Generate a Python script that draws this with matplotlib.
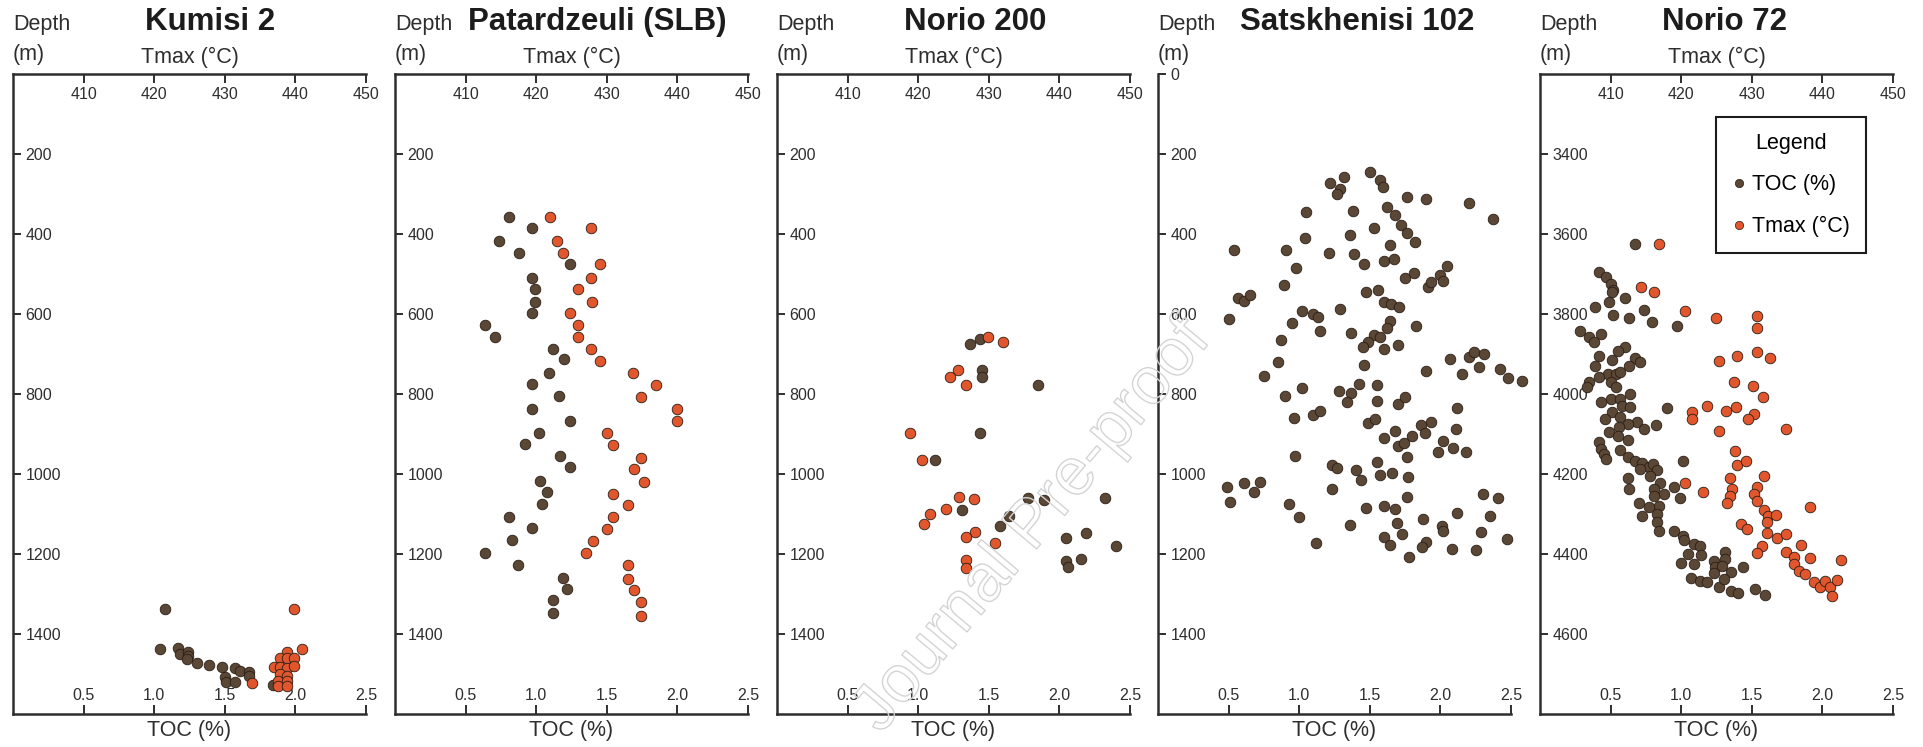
import matplotlib
matplotlib.use('Agg')
import matplotlib.pyplot as plt
import matplotlib.patheffects as pe
from matplotlib.lines import Line2D

plt.rcParams['font.family'] = ['Liberation Sans', 'DejaVu Sans']

# === DATA: (value, depth m) ===
kumisi_toc = [(1.08, 1337), (1.04, 1437), (1.17, 1434), (1.18, 1450), (1.24, 1444), (1.24, 1455),
              (1.23, 1463), (1.30, 1473), (1.39, 1477), (1.48, 1483), (1.57, 1486), (1.61, 1492),
              (1.67, 1494), (1.50, 1508), (1.51, 1519), (1.57, 1521), (1.67, 1504), (1.84, 1527)]
kumisi_tmax = [(439.8, 1337), (440.9, 1437), (438.8, 1444), (437.8, 1461), (438.8, 1461), (439.8, 1461),
               (436.9, 1482), (437.8, 1482), (438.8, 1484), (439.8, 1479), (437.8, 1500), (438.8, 1504),
               (437.5, 1518), (438.8, 1518), (437.6, 1530), (438.8, 1530), (433.8, 1523)]

patar_toc = [(0.81, 357), (0.97, 384), (0.74, 418), (0.88, 448), (1.24, 475), (0.97, 509), (0.99, 537),
             (0.99, 569), (0.97, 598), (0.64, 627), (0.71, 658), (1.12, 687), (1.20, 713), (1.09, 748),
             (0.97, 776), (1.16, 804), (0.97, 838), (1.24, 867), (1.02, 897), (0.92, 925), (1.17, 955),
             (1.24, 982), (1.03, 1017), (1.08, 1045), (1.04, 1075), (0.81, 1107), (0.97, 1136),
             (0.83, 1165), (0.64, 1197), (0.87, 1227), (1.19, 1259), (1.22, 1288), (1.12, 1315),
             (1.12, 1347)]
patar_tmax = [(422.0, 357), (427.8, 384), (423.0, 418), (423.8, 448), (429.0, 475), (427.8, 509),
              (425.9, 537), (427.9, 569), (424.8, 598), (425.9, 627), (425.9, 658), (427.8, 687),
              (429.0, 717), (433.7, 748), (437.0, 778), (434.8, 807), (440.0, 838), (440.0, 867),
              (430.0, 898), (430.9, 928), (434.8, 959), (433.8, 988), (435.2, 1019), (430.9, 1050),
              (433.0, 1078), (430.9, 1107), (430.0, 1137), (428.0, 1167), (427.0, 1198), (433.0, 1227),
              (433.0, 1263), (433.8, 1290), (434.8, 1319), (434.8, 1354)]

norio200_toc = [(1.37, 674), (1.44, 663), (1.45, 740), (1.45, 758), (1.85, 777), (1.44, 898), (1.12, 964),
                (1.78, 1061), (1.89, 1066), (2.32, 1061), (1.31, 1090), (1.64, 1104), (1.58, 1131),
                (2.05, 1159), (2.19, 1147), (2.40, 1179), (2.05, 1218), (2.15, 1212), (2.06, 1233)]
norio200_tmax = [(429.9, 657), (432.0, 669), (425.7, 741), (424.5, 758), (426.8, 777), (418.9, 898),
                 (420.5, 964), (425.8, 1057), (427.9, 1063), (423.9, 1087), (421.7, 1101), (420.8, 1125),
                 (428.1, 1145), (426.8, 1158), (430.9, 1173), (426.8, 1215), (426.8, 1235)]

satsk_toc = [(1.50, 245), (1.32, 257), (1.57, 265), (1.22, 272), (1.59, 282), (1.29, 288), (1.27, 300),
             (1.76, 307), (1.90, 313), (2.20, 322), (1.05, 345), (1.38, 342), (1.62, 332), (1.68, 352),
             (2.37, 362), (1.72, 378), (1.53, 384), (1.76, 398), (1.04, 410), (1.36, 402), (1.82, 420),
             (1.64, 428), (0.54, 440), (0.91, 440), (1.21, 448), (1.39, 450), (1.46, 475), (1.60, 467),
             (1.67, 463), (0.98, 486), (1.75, 511), (1.81, 497), (1.91, 533), (1.93, 519), (2.00, 502),
             (2.02, 517), (2.05, 480), (0.89, 527), (0.57, 559), (0.61, 567), (0.65, 552), (0.50, 612),
             (1.47, 546), (1.56, 540), (1.60, 571), (1.65, 575), (1.71, 583), (1.29, 588), (1.02, 593),
             (1.10, 600), (1.13, 607), (0.95, 622), (1.15, 642), (1.37, 647), (1.64, 617), (1.62, 636),
             (1.83, 630), (1.53, 652), (1.57, 658), (1.49, 669), (1.45, 683), (1.60, 688), (1.70, 678),
             (0.87, 665), (0.85, 719), (1.46, 728), (0.75, 754), (1.90, 742), (2.07, 713), (2.20, 707),
             (2.24, 694), (2.31, 701), (2.27, 732), (2.15, 751), (2.42, 738), (2.48, 761), (2.58, 767),
             (1.02, 784), (0.90, 804), (1.28, 792), (1.37, 797), (1.42, 776), (1.34, 821), (1.55, 778),
             (1.55, 817), (1.70, 825), (1.75, 808), (2.12, 836), (0.96, 859), (1.10, 852), (1.15, 843),
             (1.49, 873), (1.54, 862), (1.68, 892), (1.60, 911), (1.70, 930), (1.74, 922), (1.80, 904),
             (1.86, 877), (1.93, 871), (1.89, 898), (2.11, 888), (2.02, 918), (1.98, 946), (2.09, 936),
             (2.18, 944), (1.76, 957), (0.97, 954), (1.23, 977), (1.27, 986), (1.40, 990), (1.44, 1015),
             (1.55, 971), (1.57, 1002), (1.66, 997), (1.77, 1008), (1.23, 1037), (0.49, 1032),
             (0.51, 1069), (0.61, 1023), (0.68, 1044), (0.72, 1019), (0.93, 1075), (1.00, 1108),
             (1.36, 1127), (1.47, 1086), (1.60, 1080), (1.68, 1088), (1.69, 1123), (1.76, 1057),
             (1.60, 1157), (1.64, 1177), (1.73, 1151), (1.88, 1113), (2.01, 1130), (2.02, 1142),
             (2.12, 1098), (2.30, 1051), (2.41, 1061), (2.35, 1104), (2.29, 1146), (2.47, 1163),
             (1.12, 1173), (1.90, 1169), (1.87, 1182), (2.08, 1188), (2.25, 1190), (1.78, 1207)]
satsk_tmax = []

norio72_toc = [(0.67, 3625), (0.42, 3694), (0.47, 3708), (0.50, 3725), (0.52, 3739), (0.51, 3746),
               (0.60, 3761), (0.49, 3769), (0.39, 3783), (0.52, 3803), (0.63, 3811), (0.74, 3789),
               (0.79, 3821), (0.97, 3831), (0.28, 3842), (0.35, 3858), (0.43, 3850), (0.38, 3869),
               (0.60, 3883), (0.55, 3892), (0.42, 3904), (0.51, 3914), (0.67, 3911), (0.71, 3921),
               (0.63, 3929), (0.39, 3931), (0.48, 3950), (0.54, 3950), (0.57, 3946), (0.42, 3958),
               (0.35, 3971), (0.50, 3969), (0.54, 3983), (0.33, 3983), (0.64, 4000), (0.50, 4013),
               (0.57, 4013), (0.43, 4021), (0.58, 4029), (0.64, 4033), (0.90, 4036), (0.51, 4046),
               (0.57, 4058), (0.46, 4062), (0.69, 4071), (0.62, 4075), (0.74, 4088), (0.82, 4078),
               (0.56, 4083), (0.49, 4096), (0.55, 4104), (0.62, 4115), (0.42, 4121), (0.43, 4137),
               (0.45, 4150), (0.47, 4162), (0.57, 4139), (0.62, 4158), (0.67, 4167), (0.72, 4173),
               (0.77, 4183), (0.71, 4187), (0.80, 4175), (0.83, 4190), (0.78, 4206), (1.01, 4168),
               (0.62, 4211), (0.63, 4237), (0.85, 4222), (0.81, 4237), (0.95, 4232), (0.88, 4250),
               (0.81, 4256), (0.84, 4279), (0.70, 4273), (0.77, 4283), (0.72, 4304), (0.99, 4261),
               (0.83, 4300), (0.83, 4321), (0.84, 4342), (0.95, 4342), (1.01, 4354), (1.02, 4364),
               (1.09, 4375), (1.13, 4381), (1.05, 4400), (1.14, 4402), (1.00, 4422), (1.09, 4425),
               (1.23, 4417), (1.24, 4433), (1.31, 4396), (1.31, 4412), (1.29, 4429), (1.23, 4447),
               (1.35, 4444), (1.44, 4433), (1.07, 4461), (1.13, 4467), (1.18, 4471), (1.27, 4483),
               (1.30, 4462), (1.35, 4492), (1.40, 4497), (1.52, 4488), (1.59, 4502)]
norio72_tmax = [(416.9, 3625), (414.3, 3733), (416.1, 3746), (420.5, 3793), (425.0, 3811), (430.7, 3806),
                (430.7, 3835), (430.7, 3894), (432.6, 3911), (425.3, 3918), (427.9, 3904), (427.5, 3971),
                (430.2, 3979), (431.6, 4008), (423.6, 4029), (426.4, 4042), (427.7, 4033), (421.6, 4046),
                (421.6, 4062), (430.3, 4050), (429.4, 4062), (425.3, 4092), (434.9, 4087), (427.6, 4143),
                (427.9, 4177), (429.2, 4167), (426.9, 4211), (427.2, 4237), (426.9, 4254), (426.5, 4273),
                (431.7, 4204), (430.7, 4232), (430.3, 4250), (430.7, 4267), (431.7, 4289), (432.3, 4304),
                (433.4, 4302), (432.2, 4321), (428.5, 4325), (429.3, 4337), (432.1, 4347), (433.6, 4361),
                (434.9, 4350), (431.5, 4379), (430.7, 4397), (438.2, 4283), (437.0, 4377), (434.9, 4394),
                (436.0, 4408), (438.3, 4410), (442.6, 4414), (436.0, 4425), (436.7, 4442), (437.6, 4450),
                (438.8, 4469), (439.7, 4483), (440.4, 4467), (441.1, 4483), (442.1, 4464), (441.4, 4504),
                (420.6, 4222), (423.1, 4246)]

wells = ['Kumisi 2', 'Patardzeuli (SLB)', 'Norio 200', 'Satskhenisi 102', 'Norio 72']
toc_sets = [kumisi_toc, patar_toc, norio200_toc, satsk_toc, norio72_toc]
tmax_sets = [kumisi_tmax, patar_tmax, norio200_tmax, satsk_tmax, norio72_tmax]
depth_ticks = [range(200, 1401, 200), range(200, 1401, 200), range(200, 1401, 200),
               range(0, 1401, 200), range(3400, 4601, 200)]
depth_lims = [(1600, 0), (1600, 0), (1600, 0), (1600, 0), (4800, 3200)]
toc_ticks = [0.5, 1.0, 1.5, 2.0, 2.5]
tmax_ticks = [410, 420, 430, 440, 450]

# layout (pixels of the 1924x747 canvas)
W, H = 1924, 747
lefts = [13, 395, 777, 1158, 1540]
title_x = [0.558, 0.574, 0.5625, 0.564, 0.524]
PW, TOP, BOT = 353, 74, 714

BROWN, ORANGE, EDGE, INK = '#5a4736', '#e2562d', '#2a1d14', '#2e2e2e'
TICK_FS, LAB_FS = 11.5, 15.5

fig = plt.figure(figsize=(W / 100, H / 100), dpi=100)
fig.patch.set_facecolor('white')

for i, name in enumerate(wells):
    ax = fig.add_axes([lefts[i] / W, 1 - BOT / H, PW / W, (BOT - TOP) / H])
    ax.set_xlim(0, 2.5)
    ax.set_ylim(*depth_lims[i])
    for s in ['right', 'top']:
        ax.spines[s].set_visible(False)
    for s in ['left', 'bottom']:
        ax.spines[s].set_linewidth(1.8); ax.spines[s].set_color(INK)

    ax.set_xticks(toc_ticks)
    ax.set_xticklabels([f'{t:.1f}' for t in toc_ticks])
    ax.set_yticks(list(depth_ticks[i]))
    ax.tick_params(axis='x', direction='in', length=6.5, width=1.4, pad=-8,
                   labelsize=TICK_FS, colors=INK)
    ax.tick_params(axis='y', direction='in', length=6, width=1.4, pad=-9,
                   labelsize=TICK_FS, colors=INK)
    for lab in ax.get_xticklabels():
        lab.set_verticalalignment('bottom')
    for lab in ax.get_yticklabels():
        lab.set_horizontalalignment('left')

    tx, td = zip(*toc_sets[i])
    ax.scatter(tx, td, s=58, c=BROWN, edgecolors=EDGE, linewidths=0.6, clip_on=False, zorder=3)

    if tmax_sets[i]:
        ax2 = ax.twiny()
        ax2.set_xlim(400, 450)
        for s in ['right', 'left', 'bottom']:
            ax2.spines[s].set_visible(False)
        ax2.spines['top'].set_linewidth(1.8); ax2.spines['top'].set_color(INK)
        ax2.set_xticks(tmax_ticks)
        ax2.tick_params(axis='x', direction='in', length=6.5, width=1.4, pad=-9.5,
                        labelsize=TICK_FS, colors=INK)
        for lab in ax2.get_xticklabels():
            lab.set_verticalalignment('top')
        mx, md = zip(*tmax_sets[i])
        ax2.scatter(mx, md, s=58, c=ORANGE, edgecolors=EDGE, linewidths=0.6, clip_on=False, zorder=3)
        ax.text(0.5, 1.0266, 'Tmax (°C)', transform=ax.transAxes, ha='center', va='center',
                fontsize=LAB_FS, color=INK)

    ax.text(0.5, -0.026, 'TOC (%)', transform=ax.transAxes, ha='center', va='center',
            fontsize=LAB_FS, color=INK)
    ax.text(0.0, 1.078, 'Depth', transform=ax.transAxes, ha='left', va='center',
            fontsize=LAB_FS, color=INK)
    ax.text(0.0, 1.0297, '(m)', transform=ax.transAxes, ha='left', va='center',
            fontsize=LAB_FS, color=INK)
    ax.text(title_x[i], 1.081, name, transform=ax.transAxes, ha='center', va='center',
            fontsize=22.5, fontweight='bold', color='#1c1c1c')

    if i == len(wells) - 1:
        handles = [
            Line2D([0], [0], marker='o', linestyle='None', markersize=6, markerfacecolor=BROWN,
                   markeredgecolor=EDGE, markeredgewidth=0.5, label='TOC (%)'),
            Line2D([0], [0], marker='o', linestyle='None', markersize=6, markerfacecolor=ORANGE,
                   markeredgecolor=EDGE, markeredgewidth=0.5, label='Tmax (°C)'),
        ]
        leg = ax.legend(handles=handles, title='Legend', loc='upper right',
                        bbox_to_anchor=(0.923, 0.933), borderaxespad=0, fontsize=LAB_FS,
                        title_fontsize=LAB_FS, fancybox=False, framealpha=1, edgecolor='#1c1c1c',
                        handlelength=0.6, handletextpad=0.3, labelspacing=0.95, borderpad=0.75)
        leg.get_frame().set_linewidth(1.5)
        leg.set_zorder(10)

# watermark
fig.text(0.537, 0.295, 'Journal Pre-proof', rotation=50, fontsize=48, color=(1, 1, 1, 0),
         ha='center', va='center',
         path_effects=[pe.withStroke(linewidth=1.0, foreground='#d4d4d4')])

fig.savefig('out.png', dpi=100, facecolor='white')
